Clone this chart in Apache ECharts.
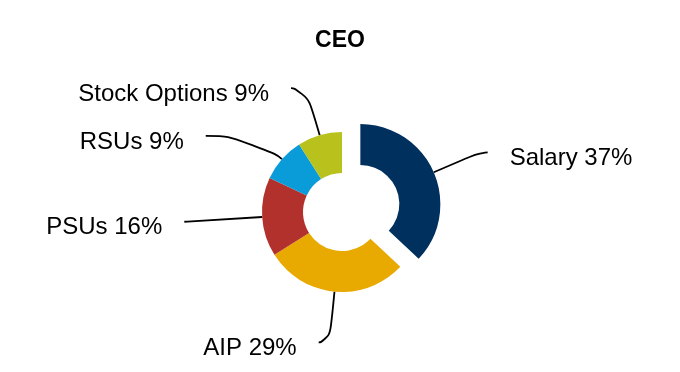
<!DOCTYPE html>
<html><head><meta charset="utf-8">
<script src="https://cdn.jsdelivr.net/npm/echarts@6/dist/echarts.min.js"></script>
<style>html,body{margin:0;padding:0;background:#fff}#c{width:680px;height:372px}</style>
</head><body><div id="c"></div>
<script>
const chartTitle = 'CEO';
const categories = ['Salary', 'AIP', 'PSUs', 'RSUs', 'Stock Options'];
const values = [37, 29, 16, 9, 9];
const selectedSlice = 'Salary';

const colors = ['#00305e', '#e8a900', '#b3312c', '#0a9bd9', '#b9c11c'];
const lineLength = [50, 51, 75, 35, 49];
const lineLength2 = [8, 11, 3, 50, 15];

const chart = echarts.init(document.getElementById('c'), null, { renderer: 'canvas' });
const data = categories.map((name, i) => ({
  name: name,
  value: values[i],
  selected: name === selectedSlice,
  itemStyle: { color: colors[i] },
  labelLine: { length: lineLength[i], length2: lineLength2[i] }
}));

const FONT = 'Liberation Sans, Arial, sans-serif';

chart.setOption({
  animation: false,
  backgroundColor: '#ffffff',
  title: {
    text: chartTitle,
    left: 'center',
    top: 24,
    textStyle: { fontFamily: FONT, fontSize: 23, fontWeight: 'bold', color: '#000' }
  },
  series: [{
    type: 'pie',
    center: [342, 212],
    radius: [39, 80],
    startAngle: 90,
    clockwise: true,
    selectedMode: 'single',
    selectedOffset: 20,
    avoidLabelOverlap: false,
    emphasis: { disabled: true },
    itemStyle: { borderWidth: 0 },
    label: {
      show: true,
      position: 'outside',
      formatter: function (p) { return '{s| }\n{t|' + p.name + ' ' + p.value + '%}'; },
      fontFamily: FONT,
      color: '#000',
      distanceToLabelLine: 22,
      rich: {
        s: { fontSize: 2, lineHeight: 12, fontFamily: FONT },
        t: { fontSize: 24, lineHeight: 28, fontFamily: FONT, color: '#000' }
      }
    },
    labelLine: {
      show: true,
      smooth: 0.8,
      lineStyle: { color: '#000', width: 1.8 }
    },
    data: data
  }]
});
</script>
</body></html>
